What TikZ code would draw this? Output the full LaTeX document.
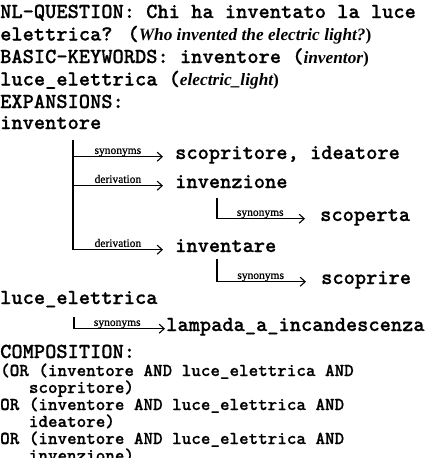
\documentclass[tikz,border=0pt]{standalone}
\usepackage{fontspec}
\setmainfont{Liberation Serif}
\newfontfamily\courb{lmmonolt10-bold.otf}[FakeBold=0.7]
\newfontfamily\lblfont{Liberation Serif}[FakeBold=0.8]
\usetikzlibrary{arrows.meta,calc}
\newcommand{\ittext}[1]{{\rmfamily\bfseries\itshape\fontsize{17.3}{19}\selectfont #1}}
\newcommand{\rpar}{{\rmfamily\bfseries\fontsize{17.3}{19}\selectfont )}}
\begin{document}
\begin{tikzpicture}[x=1pt,y=1pt,
  mono/.style={font=\fontsize{21.4}{22}\selectfont\courb, inner sep=0pt, anchor=base west},
  comp/.style={font=\fontsize{18.2}{19}\selectfont\courb, inner sep=0pt, anchor=base west},
  rel/.style={font=\fontsize{11.5}{13}\selectfont\lblfont, inner sep=0pt, anchor=base, yshift=2.8pt},
  ln/.style={line width=1pt},
  arr/.style={line width=1.1pt, -{Straight Barb[length=5pt,width=9pt]}}]
\useasboundingbox (0,0) rectangle (426,-458);
% header
\node[mono] (q1) at (0,-18) {NL-QUESTION: Chi ha inventato la luce};
\node[mono] (q2) at (0,-40.5) {elettrica? (\ittext{Who invented the electric light?}\rpar};
\node[mono] (k1) at (0,-63) {BASIC-KEYWORDS: inventore (\ittext{inventor}\rpar};
\node[mono] (k2) at (0,-85.5) {luce\_elettrica (\ittext{electric\_light}\rpar};
\node[mono] (ex) at (0,-108) {EXPANSIONS:};
% tree
\node[mono] (inv) at (0,-129) {inventore};
\node[mono] (scop) at (175,-159) {scopritore, ideatore};
\node[mono] (invz) at (175,-188) {invenzione};
\node[mono] (scpt) at (320,-221) {scoperta};
\node[mono] (invt) at (175,-252) {inventare};
\node[mono] (scpr) at (321,-284) {scoprire};
\node[mono] (luce) at (0,-304) {luce\_elettrica};
\node[mono] (lamp) at (166,-331) {lampada\_a\_incandescenza};
\coordinate (t1) at (73,-140);
\coordinate (t2) at (217,-198);
\coordinate (t3) at (217,-259);
\coordinate (t4) at (74,-317);
\draw[arr, shorten >=12pt] (t1) |- (invt.mid west);
\draw[arr, shorten >=12pt] (t1 |- scop.mid west) -- (scop.mid west)
  node[rel, pos=0.44] (l1) {synonyms};
\draw[arr, shorten >=12pt] (t1 |- invz.mid west) -- (invz.mid west)
  node[rel, pos=0.44] (l2) {derivation};
\path (t1 |- invt.mid west) -- (invt.mid west) node[rel, pos=0.44] (l3) {derivation};
\draw[arr, shorten >=15pt] (t2) |- (scpt.mid west);
\path (t2 |- scpt.mid west) -- (scpt.mid west) node[rel, pos=0.42] (l4) {synonyms};
\draw[arr, shorten >=15pt] (t3) |- (scpr.mid west);
\path (t3 |- scpr.mid west) -- (scpr.mid west) node[rel, pos=0.42] (l5) {synonyms};
\draw[arr, shorten >=1pt] (t4) |- (lamp.mid west);
\path (t4 |- lamp.mid west) -- (lamp.mid west) node[rel, pos=0.47] (l6) {synonyms};
% composition
\node[mono] (cp) at (0,-358) {COMPOSITION:};
\node[comp] (c1) at (0,-376) {(OR (inventore AND luce\_elettrica AND};
\node[comp] (c2) at (28.7,-393) {scopritore)};
\node[comp] (c3) at (0,-410) {OR (inventore AND luce\_elettrica AND};
\node[comp] (c4) at (28.7,-427) {ideatore)};
\node[comp] (c5) at (0,-444) {OR (inventore AND luce\_elettrica AND};
\node[comp] (c6) at (28.7,-461) {invenzione)};
\end{tikzpicture}
\end{document}
